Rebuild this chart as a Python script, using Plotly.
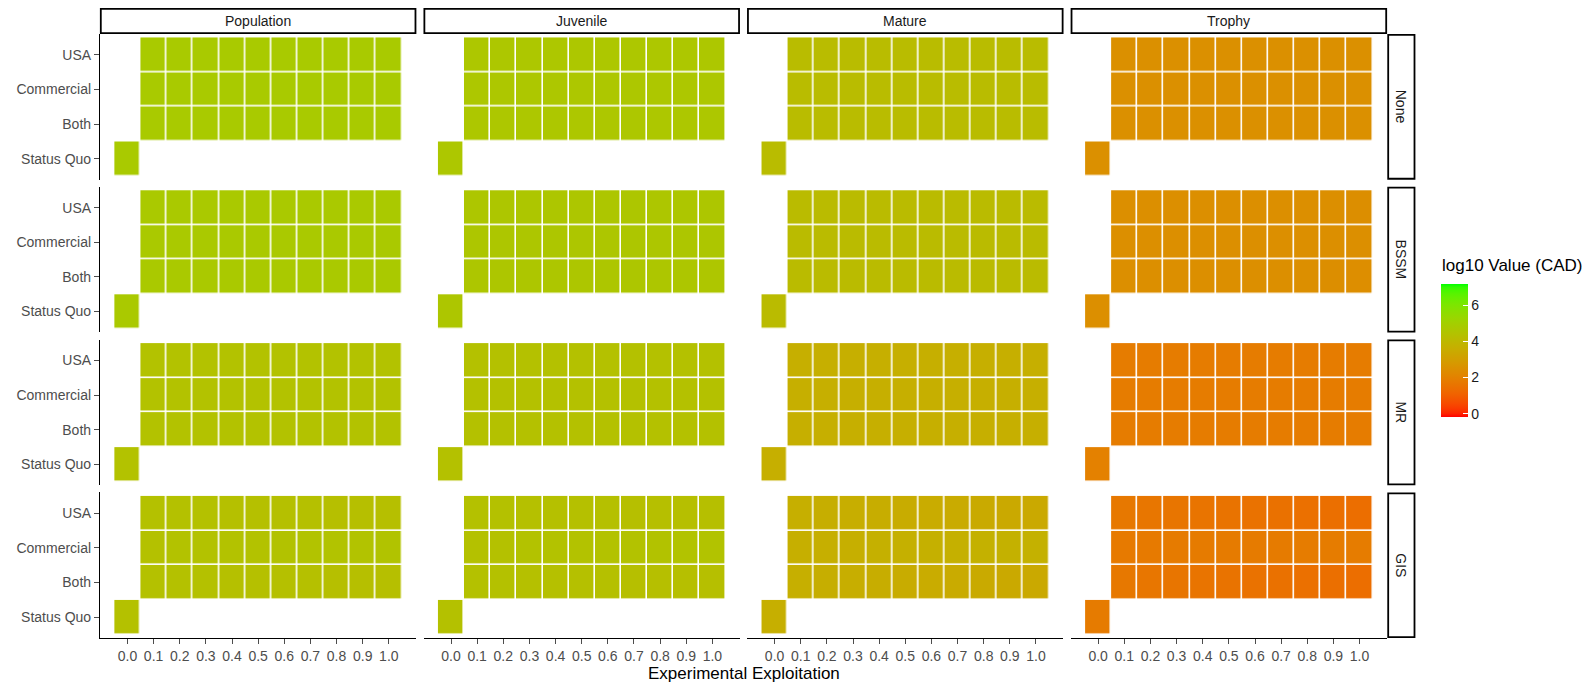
import plotly.graph_objects as go

# ---------------------------------------------------------------- data
measures = ["Population", "Juvenile", "Mature", "Trophy"]
methods = ["None", "BSSM", "MR", "GIS"]
exploitation = [0.0, 0.1, 0.2, 0.3, 0.4, 0.5, 0.6, 0.7, 0.8, 0.9, 1.0]
scenarios = ["Status Quo", "Both", "Commercial", "USA"]  # bottom -> top

# log10 value (CAD) at exploitation 0.1 ... 1.0 for USA / Commercial / Both,
# plus the single Status Quo value at exploitation 0.0

pop_none_usa = [4.80, 4.80, 4.80, 4.80, 4.80, 4.80, 4.80, 4.80, 4.80, 4.80]
pop_none_com = [4.80, 4.80, 4.80, 4.80, 4.80, 4.80, 4.80, 4.80, 4.80, 4.80]
pop_none_both = [4.80, 4.80, 4.80, 4.80, 4.80, 4.80, 4.80, 4.80, 4.80, 4.80]
pop_none_sq = 4.80
pop_bssm_usa = [4.76, 4.76, 4.76, 4.76, 4.76, 4.76, 4.76, 4.76, 4.76, 4.76]
pop_bssm_com = [4.76, 4.76, 4.76, 4.76, 4.76, 4.76, 4.76, 4.76, 4.76, 4.76]
pop_bssm_both = [4.76, 4.76, 4.76, 4.76, 4.76, 4.76, 4.76, 4.76, 4.76, 4.75]
pop_bssm_sq = 4.76
pop_mr_usa = [4.42, 4.42, 4.42, 4.42, 4.42, 4.42, 4.42, 4.42, 4.42, 4.42]
pop_mr_com = [4.42, 4.42, 4.42, 4.42, 4.42, 4.42, 4.42, 4.42, 4.42, 4.42]
pop_mr_both = [4.42, 4.42, 4.42, 4.42, 4.42, 4.42, 4.42, 4.42, 4.42, 4.42]
pop_mr_sq = 4.42
pop_gis_usa = [4.41, 4.40, 4.39, 4.38, 4.37, 4.36, 4.35, 4.34, 4.33, 4.32]
pop_gis_com = [4.41, 4.42, 4.43, 4.44, 4.45, 4.46, 4.47, 4.48, 4.49, 4.50]
pop_gis_both = [4.41, 4.40, 4.39, 4.38, 4.37, 4.36, 4.35, 4.34, 4.33, 4.32]
pop_gis_sq = 4.41

juv_none_usa = [4.66, 4.66, 4.66, 4.66, 4.66, 4.66, 4.66, 4.66, 4.66, 4.66]
juv_none_com = [4.66, 4.66, 4.66, 4.66, 4.66, 4.66, 4.66, 4.66, 4.66, 4.66]
juv_none_both = [4.66, 4.66, 4.66, 4.66, 4.66, 4.66, 4.66, 4.66, 4.66, 4.66]
juv_none_sq = 4.66
juv_bssm_usa = [4.64, 4.64, 4.64, 4.64, 4.64, 4.64, 4.64, 4.64, 4.64, 4.64]
juv_bssm_com = [4.64, 4.64, 4.64, 4.64, 4.64, 4.64, 4.64, 4.64, 4.64, 4.64]
juv_bssm_both = [4.64, 4.64, 4.64, 4.64, 4.64, 4.64, 4.64, 4.64, 4.64, 4.63]
juv_bssm_sq = 4.64
juv_mr_usa = [4.40, 4.40, 4.40, 4.40, 4.40, 4.40, 4.40, 4.40, 4.40, 4.40]
juv_mr_com = [4.40, 4.40, 4.40, 4.40, 4.40, 4.40, 4.40, 4.40, 4.40, 4.40]
juv_mr_both = [4.40, 4.40, 4.40, 4.40, 4.40, 4.40, 4.40, 4.40, 4.40, 4.40]
juv_mr_sq = 4.40
juv_gis_usa = [4.40, 4.39, 4.38, 4.37, 4.36, 4.35, 4.34, 4.33, 4.32, 4.31]
juv_gis_com = [4.40, 4.41, 4.42, 4.43, 4.44, 4.45, 4.45, 4.46, 4.47, 4.48]
juv_gis_both = [4.40, 4.39, 4.38, 4.37, 4.36, 4.35, 4.34, 4.33, 4.32, 4.31]
juv_gis_sq = 4.40

mat_none_usa = [4.20, 4.20, 4.20, 4.20, 4.20, 4.20, 4.20, 4.20, 4.20, 4.20]
mat_none_com = [4.20, 4.20, 4.20, 4.20, 4.20, 4.20, 4.20, 4.20, 4.20, 4.20]
mat_none_both = [4.20, 4.20, 4.20, 4.20, 4.20, 4.20, 4.20, 4.20, 4.20, 4.20]
mat_none_sq = 4.20
mat_bssm_usa = [4.18, 4.18, 4.18, 4.18, 4.18, 4.18, 4.18, 4.18, 4.18, 4.18]
mat_bssm_com = [4.18, 4.18, 4.18, 4.18, 4.18, 4.18, 4.18, 4.18, 4.18, 4.18]
mat_bssm_both = [4.18, 4.18, 4.18, 4.18, 4.18, 4.18, 4.18, 4.18, 4.17, 4.16]
mat_bssm_sq = 4.18
mat_mr_usa = [3.68, 3.68, 3.68, 3.68, 3.68, 3.68, 3.68, 3.68, 3.68, 3.68]
mat_mr_com = [3.68, 3.68, 3.68, 3.68, 3.68, 3.68, 3.68, 3.68, 3.68, 3.68]
mat_mr_both = [3.68, 3.68, 3.68, 3.68, 3.68, 3.68, 3.68, 3.68, 3.68, 3.68]
mat_mr_sq = 3.68
mat_gis_usa = [3.66, 3.64, 3.62, 3.60, 3.57, 3.54, 3.52, 3.49, 3.46, 3.43]
mat_gis_com = [3.66, 3.67, 3.68, 3.69, 3.70, 3.71, 3.72, 3.73, 3.74, 3.75]
mat_gis_both = [3.66, 3.64, 3.62, 3.60, 3.57, 3.54, 3.52, 3.49, 3.46, 3.43]
mat_gis_sq = 3.68

tro_none_usa = [2.52, 2.52, 2.52, 2.52, 2.52, 2.52, 2.52, 2.52, 2.52, 2.52]
tro_none_com = [2.52, 2.52, 2.52, 2.52, 2.52, 2.52, 2.52, 2.52, 2.52, 2.52]
tro_none_both = [2.52, 2.52, 2.52, 2.52, 2.52, 2.52, 2.52, 2.52, 2.52, 2.52]
tro_none_sq = 2.52
tro_bssm_usa = [2.50, 2.50, 2.50, 2.50, 2.50, 2.50, 2.50, 2.49, 2.48, 2.46]
tro_bssm_com = [2.50, 2.50, 2.50, 2.50, 2.50, 2.50, 2.50, 2.50, 2.49, 2.48]
tro_bssm_both = [2.50, 2.50, 2.50, 2.50, 2.50, 2.50, 2.50, 2.49, 2.47, 2.44]
tro_bssm_sq = 2.50
tro_mr_usa = [1.86, 1.86, 1.86, 1.86, 1.86, 1.86, 1.86, 1.86, 1.86, 1.86]
tro_mr_com = [1.86, 1.86, 1.86, 1.86, 1.86, 1.86, 1.86, 1.86, 1.86, 1.86]
tro_mr_both = [1.86, 1.86, 1.86, 1.86, 1.86, 1.86, 1.86, 1.86, 1.86, 1.86]
tro_mr_sq = 2.02
tro_gis_usa = [1.74, 1.70, 1.66, 1.63, 1.60, 1.57, 1.54, 1.51, 1.47, 1.44]
tro_gis_com = [1.82, 1.82, 1.83, 1.84, 1.84, 1.85, 1.85, 1.86, 1.86, 1.87]
tro_gis_both = [1.74, 1.70, 1.66, 1.63, 1.60, 1.57, 1.54, 1.51, 1.47, 1.44]
tro_gis_sq = 1.84

colour_min, colour_max = -0.15, 7.19
legend_ticks = [0, 2, 4, 6]

panels = {
    ("Population", "None"): (pop_none_usa, pop_none_com, pop_none_both, pop_none_sq),
    ("Population", "BSSM"): (pop_bssm_usa, pop_bssm_com, pop_bssm_both, pop_bssm_sq),
    ("Population", "MR"): (pop_mr_usa, pop_mr_com, pop_mr_both, pop_mr_sq),
    ("Population", "GIS"): (pop_gis_usa, pop_gis_com, pop_gis_both, pop_gis_sq),
    ("Juvenile", "None"): (juv_none_usa, juv_none_com, juv_none_both, juv_none_sq),
    ("Juvenile", "BSSM"): (juv_bssm_usa, juv_bssm_com, juv_bssm_both, juv_bssm_sq),
    ("Juvenile", "MR"): (juv_mr_usa, juv_mr_com, juv_mr_both, juv_mr_sq),
    ("Juvenile", "GIS"): (juv_gis_usa, juv_gis_com, juv_gis_both, juv_gis_sq),
    ("Mature", "None"): (mat_none_usa, mat_none_com, mat_none_both, mat_none_sq),
    ("Mature", "BSSM"): (mat_bssm_usa, mat_bssm_com, mat_bssm_both, mat_bssm_sq),
    ("Mature", "MR"): (mat_mr_usa, mat_mr_com, mat_mr_both, mat_mr_sq),
    ("Mature", "GIS"): (mat_gis_usa, mat_gis_com, mat_gis_both, mat_gis_sq),
    ("Trophy", "None"): (tro_none_usa, tro_none_com, tro_none_both, tro_none_sq),
    ("Trophy", "BSSM"): (tro_bssm_usa, tro_bssm_com, tro_bssm_both, tro_bssm_sq),
    ("Trophy", "MR"): (tro_mr_usa, tro_mr_com, tro_mr_both, tro_mr_sq),
    ("Trophy", "GIS"): (tro_gis_usa, tro_gis_com, tro_gis_both, tro_gis_sq),
}


# ------------------------------------------- red -> green gradient in Lab
def _lin(c):
    c /= 255.0
    return c / 12.92 if c <= 0.04045 else ((c + 0.055) / 1.055) ** 2.4


def _gam(c):
    c = 12.92 * c if c <= 0.0031308 else 1.055 * c ** (1 / 2.4) - 0.055
    return max(0, min(255, round(c * 255)))


WHITE = (0.95047, 1.0, 1.08883)


def rgb_to_lab(rgb):
    r, g, b = (_lin(float(v)) for v in rgb)
    x = (0.4124 * r + 0.3576 * g + 0.1805 * b) / WHITE[0]
    y = (0.2126 * r + 0.7152 * g + 0.0722 * b) / WHITE[1]
    z = (0.0193 * r + 0.1192 * g + 0.9505 * b) / WHITE[2]
    f = lambda t: t ** (1 / 3) if t > 0.008856 else 7.787 * t + 16 / 116
    fx, fy, fz = f(x), f(y), f(z)
    return 116 * fy - 16, 500 * (fx - fy), 200 * (fy - fz)


def lab_to_rgb(lab):
    L, a, b = lab
    fy = (L + 16) / 116
    fx = fy + a / 500
    fz = fy - b / 200
    g = lambda t: t ** 3 if t ** 3 > 0.008856 else (t - 16 / 116) / 7.787
    x, y, z = g(fx) * WHITE[0], g(fy) * WHITE[1], g(fz) * WHITE[2]
    r = 3.2406 * x - 1.5372 * y - 0.4986 * z
    gg = -0.9689 * x + 1.8758 * y + 0.0415 * z
    bb = 0.0557 * x - 0.2040 * y + 1.0570 * z
    return _gam(r), _gam(gg), _gam(bb)


low_lab = rgb_to_lab((255, 0, 0))
high_lab = rgb_to_lab((0, 255, 0))
n_stops = 41
colorscale = []
for i in range(n_stops):
    t = i / (n_stops - 1)
    lab = tuple(lo + (hi - lo) * t for lo, hi in zip(low_lab, high_lab))
    r, g, b = lab_to_rgb(lab)
    colorscale.append([t, f"rgb({r},{g},{b})"])

# ---------------------------------------------------------------- layout
W, H = 1587, 684
panel_left, panel_right = 100.0, 1387.0
panel_top, panel_bottom = 34.0, 638.0
gap = 7.3
pw = (panel_right - panel_left - 3 * gap) / 4
ph = (panel_bottom - panel_top - 3 * gap) / 4
col_x = [(panel_left + i * (pw + gap), panel_left + i * (pw + gap) + pw) for i in range(4)]
row_y = [(panel_top + j * (ph + gap), panel_top + j * (ph + gap) + ph) for j in range(4)]

px = lambda v: v / W
py = lambda v: 1 - v / H

AXIS_GREY = "#4D4D4D"
FONT = "Liberation Sans, Arial, sans-serif"

fig = go.Figure()
layout = {}
shapes = []
annotations = []

k = 0
for j, method in enumerate(methods):
    for i, measure in enumerate(measures):
        k += 1
        usa, com, both, sq = panels[(measure, method)]
        z = [
            [sq] + [None] * 10,
            [None] + list(both),
            [None] + list(com),
            [None] + list(usa),
        ]
        xa = "x" if k == 1 else f"x{k}"
        ya = "y" if k == 1 else f"y{k}"
        fig.add_trace(go.Heatmap(
            x=exploitation, y=scenarios, z=z,
            coloraxis="coloraxis", xaxis=xa, yaxis=ya,
            xgap=1.6, ygap=1.6, hoverongaps=False,
        ))
        x0, x1 = col_x[i]
        y0, y1 = row_y[j]
        bottom_row = j == 3
        left_col = i == 0
        layout["xaxis" if k == 1 else f"xaxis{k}"] = dict(
            domain=[px(x0), px(x1)], anchor=ya,
            range=[-0.105, 1.105], tickvals=exploitation, tickformat=".1f",
            showticklabels=bottom_row, ticks="outside" if bottom_row else "",
            ticklen=5, tickcolor=AXIS_GREY, tickwidth=1,
            showline=bottom_row, linecolor="black", linewidth=1.2,
            showgrid=False, zeroline=False,
            tickfont=dict(size=14, color=AXIS_GREY, family=FONT),
        )
        layout["yaxis" if k == 1 else f"yaxis{k}"] = dict(
            domain=[py(y1), py(y0)], anchor=xa,
            type="category", categoryorder="array", categoryarray=scenarios,
            range=[-0.6, 3.6],
            showticklabels=left_col, ticks="outside" if left_col else "",
            ticklen=5, tickcolor=AXIS_GREY, tickwidth=1,
            showline=left_col, linecolor="black", linewidth=1.2,
            showgrid=False, zeroline=False,
            tickfont=dict(size=14, color=AXIS_GREY, family=FONT),
        )

# column strips
for i, measure in enumerate(measures):
    x0, x1 = col_x[i]
    shapes.append(dict(type="rect", xref="paper", yref="paper",
                       x0=px(x0 + 0.8), x1=px(x1 - 0.8), y0=py(33.2), y1=py(8.8),
                       line=dict(color="black", width=1.8), fillcolor="white"))
    annotations.append(dict(text=measure, xref="paper", yref="paper",
                            x=px((x0 + x1) / 2), y=py(21), showarrow=False,
                            xanchor="center", yanchor="middle",
                            font=dict(size=14, color="#1A1A1A", family=FONT)))

# row strips
for j, method in enumerate(methods):
    y0, y1 = row_y[j]
    shapes.append(dict(type="rect", xref="paper", yref="paper",
                       x0=px(panel_right + 1.2), x1=px(1414.5), y0=py(y1 - 0.8), y1=py(y0 + 0.8),
                       line=dict(color="black", width=1.8), fillcolor="white"))
    annotations.append(dict(text=method, xref="paper", yref="paper",
                            x=px(1401), y=py((y0 + y1) / 2), showarrow=False,
                            textangle=90, xanchor="center", yanchor="middle",
                            font=dict(size=14, color="#1A1A1A", family=FONT)))

# axis title and legend title
annotations.append(dict(text="Experimental Exploitation", xref="paper", yref="paper",
                        x=px((panel_left + panel_right) / 2), y=py(673), showarrow=False,
                        xanchor="center", yanchor="middle",
                        font=dict(size=17, color="black", family=FONT)))
annotations.append(dict(text="log10 Value (CAD)", xref="paper", yref="paper",
                        x=px(1440), y=py(265), showarrow=False,
                        xanchor="left", yanchor="middle",
                        font=dict(size=17, color="black", family=FONT)))

bar_top, bar_bottom = 283.3, 416.7
layout["coloraxis"] = dict(
    colorscale=colorscale, cmin=colour_min, cmax=colour_max,
    colorbar=dict(
        x=px(1440.7), xanchor="left", xpad=0,
        y=py((bar_top + bar_bottom) / 2), yanchor="middle", ypad=0,
        len=bar_bottom - bar_top, lenmode="pixels",
        thickness=26.6, thicknessmode="pixels",
        outlinewidth=0, tickvals=legend_ticks,
        ticks="inside", ticklen=5, tickcolor="white", tickwidth=1.2,
        tickfont=dict(size=14, color="#1A1A1A", family=FONT),
    ),
)

fig.update_layout(
    width=W, height=H, margin=dict(l=0, r=0, t=0, b=0),
    paper_bgcolor="white", plot_bgcolor="white",
    shapes=shapes, annotations=annotations, showlegend=False,
    font=dict(family=FONT),
    **layout,
)

fig.write_html("out.html")
